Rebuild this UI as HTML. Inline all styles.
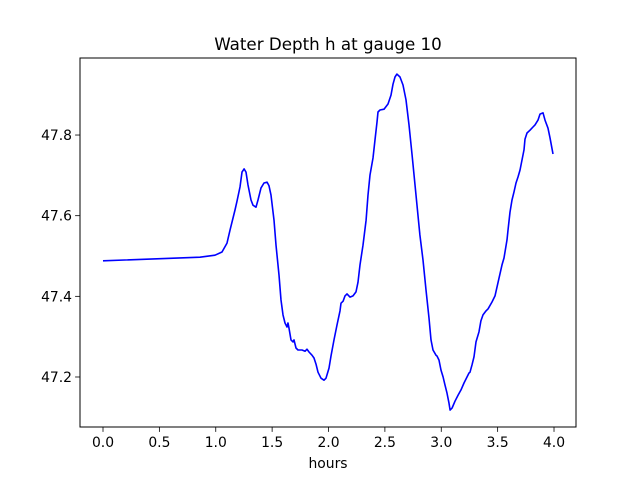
<!DOCTYPE html>
<html><head><meta charset="utf-8"><style>
body{margin:0;background:#fff}
text{font-family:"DejaVu Sans","Liberation Sans",sans-serif;fill:#000}
</style></head><body>
<svg id="chart" width="640" height="480" xmlns="http://www.w3.org/2000/svg">
<rect width="640" height="480" fill="#fff"/>
<text x="328" y="50" font-size="16.7" text-anchor="middle">Water Depth h at gauge 10</text>
<g id="plot"></g>
<rect x="80" y="58" width="496" height="369" fill="none" stroke="#000" stroke-width="1"/>
<text x="328" y="468" font-size="13.9" text-anchor="middle">hours</text>
</svg>
<script>
const times=[0,0.86,0.993,1.055,1.1,1.126,1.171,1.188,1.215,1.233,1.251,1.268,1.286,1.313,1.33,1.357,1.375,1.401,1.428,1.455,1.472,1.49,1.517,1.534,1.561,1.579,1.596,1.614,1.632,1.641,1.65,1.667,1.685,1.694,1.712,1.729,1.765,1.792,1.809,1.827,1.854,1.871,1.889,1.907,1.933,1.96,1.978,2.004,2.022,2.049,2.075,2.102,2.111,2.129,2.146,2.164,2.191,2.217,2.244,2.262,2.279,2.306,2.333,2.35,2.368,2.395,2.412,2.43,2.439,2.457,2.492,2.528,2.554,2.572,2.59,2.607,2.634,2.661,2.687,2.714,2.741,2.776,2.811,2.838,2.865,2.891,2.909,2.927,2.953,2.962,2.98,2.998,3.016,3.033,3.051,3.069,3.078,3.096,3.122,3.149,3.175,3.202,3.228,3.246,3.255,3.273,3.29,3.308,3.335,3.352,3.37,3.397,3.415,3.45,3.477,3.494,3.512,3.539,3.556,3.583,3.592,3.61,3.627,3.645,3.663,3.681,3.698,3.716,3.734,3.743,3.76,3.787,3.814,3.831,3.858,3.876,3.902,3.92,3.947,3.964,3.991];
const depths=[47.488,47.497,47.502,47.51,47.532,47.564,47.614,47.636,47.671,47.708,47.716,47.708,47.676,47.639,47.626,47.621,47.639,47.669,47.681,47.683,47.674,47.651,47.589,47.527,47.453,47.391,47.354,47.334,47.324,47.334,47.321,47.292,47.287,47.292,47.272,47.267,47.267,47.264,47.269,47.262,47.254,47.247,47.232,47.212,47.197,47.192,47.197,47.222,47.252,47.292,47.329,47.364,47.383,47.388,47.401,47.406,47.398,47.401,47.411,47.435,47.478,47.527,47.589,47.651,47.701,47.743,47.788,47.832,47.857,47.862,47.864,47.877,47.899,47.926,47.944,47.951,47.944,47.924,47.887,47.825,47.75,47.651,47.552,47.49,47.416,47.346,47.292,47.267,47.254,47.252,47.242,47.217,47.2,47.18,47.16,47.135,47.118,47.123,47.14,47.155,47.168,47.185,47.2,47.21,47.212,47.23,47.25,47.287,47.312,47.339,47.354,47.364,47.369,47.386,47.401,47.423,47.445,47.478,47.495,47.54,47.564,47.609,47.639,47.659,47.681,47.696,47.713,47.738,47.763,47.79,47.805,47.812,47.82,47.825,47.837,47.852,47.855,47.837,47.817,47.793,47.753];
const xTicks=[0,0.5,1,1.5,2,2.5,3,3.5,4];
const xTickLabels=["0.0","0.5","1.0","1.5","2.0","2.5","3.0","3.5","4.0"];
const yTicks=[47.2,47.4,47.6,47.8];
const yTickLabels=["47.2","47.4","47.6","47.8"];

const L=80,R=576,T=58,B=427;
const x0=-0.204,x1=4.195,y0=47.076,y1=47.991;
function sx(v){return L+(v-x0)/(x1-x0)*(R-L);}
function sy(v){return B-(v-y0)/(y1-y0)*(B-T);}
const NS="http://www.w3.org/2000/svg";
const g=document.getElementById('plot');
function mk(tag,attrs){const e=document.createElementNS(NS,tag);for(const k in attrs)e.setAttribute(k,attrs[k]);g.appendChild(e);return e;}
xTicks.forEach((t,i)=>{
  const X=sx(t);
  const tk=mk('line',{x1:X,x2:X,y1:B,y2:B+4.9,stroke:'#000','stroke-width':0.8});
  
  
  const lb=mk('text',{x:X,y:B+20,'font-size':13.9,'text-anchor':'middle'});
  lb.textContent=xTickLabels[i];
  
  
});
yTicks.forEach((t,i)=>{
  const Y=sy(t);
  const tk=mk('line',{x1:L-4.9,x2:L,y1:Y,y2:Y,stroke:'#000','stroke-width':0.8});
  
  
  const lb=mk('text',{x:L-8,y:Y+5,'font-size':13.9,'text-anchor':'end'});
  lb.textContent=yTickLabels[i];
  
  
});
const pts=times.map((t,i)=>sx(t).toFixed(1)+','+sy(depths[i]).toFixed(1)).join(' ');
const line=mk('polyline',{points:pts,fill:'none',stroke:'#0000ff','stroke-width':1.6,'stroke-linejoin':'round'});


</script>
</body></html>
